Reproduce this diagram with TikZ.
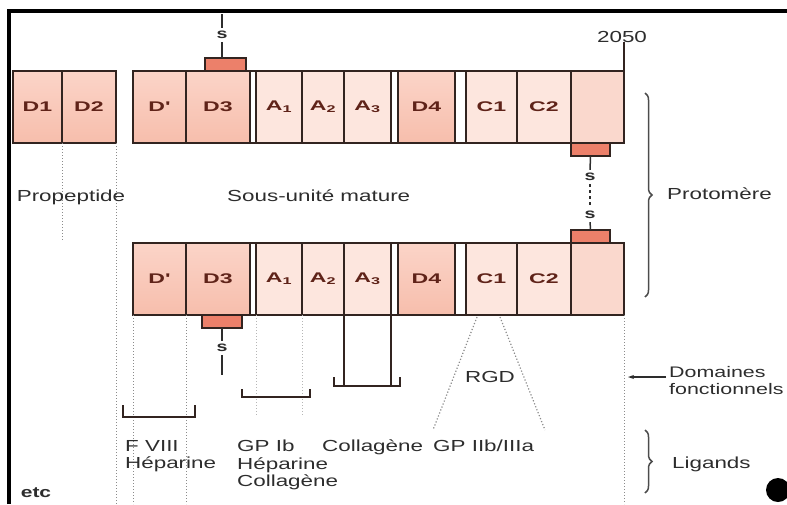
\documentclass[tikz,border=0pt]{standalone}
\usepackage{fontspec}
\setmainfont{Liberation Sans}[FakeStretch=1.4]
\newfontfamily\boxfont{Liberation Sans}[FakeStretch=1.65]
\usetikzlibrary{arrows.meta,decorations.pathreplacing}
\definecolor{vwfdark}{RGB}{240,145,124}
\definecolor{vwfpale}{RGB}{251,212,200}
\definecolor{vwfbase}{RGB}{247,190,172}
\definecolor{vwflight}{RGB}{249,206,192}
\definecolor{vwfedge}{RGB}{253,230,222}
\definecolor{vwflast}{RGB}{250,216,205}
\definecolor{vwfcap}{RGB}{236,128,106}
\definecolor{vwfline}{RGB}{50,36,32}
\definecolor{vwftext}{RGB}{45,45,45}
\definecolor{vwfred}{RGB}{95,35,25}

\tikzset{
  dom/.style={draw=vwfline, line width=1.7pt, minimum height=72pt, inner sep=0pt, outer sep=0pt,
    anchor=north west, text=vwfred, font=\boxfont\bfseries\fontsize{14}{16}\selectfont},
  darkdom/.style={dom, top color=vwfpale, middle color=vwfdark, bottom color=vwfbase},
  lightdom/.style={dom, top color=vwfedge, middle color=vwflight, bottom color=vwfedge},
  lastdom/.style={dom, fill=vwflast},
  capbox/.style={draw=vwfline, line width=1.4pt, fill=vwfcap, minimum height=13pt, inner sep=0pt, outer sep=0pt},
  lbl/.style={text=vwftext, inner sep=0pt, font=\fontsize{16}{17.5}\selectfont},
  bond/.style={text=vwftext, inner sep=3pt, font=\bfseries\fontsize{14}{15}\selectfont},
  sline/.style={draw=vwftext, line width=1.5pt},
  guide/.style={draw=vwftext!55, dotted, line width=1pt},
  bracket/.style={draw=vwfline, line width=1.5pt},
  curly/.style={draw=vwftext!85, line width=1.5pt, decorate, decoration={brace, amplitude=7pt}}
}

\begin{document}
\begin{tikzpicture}[x=1pt, y=-1pt]
  \useasboundingbox (0,0) rectangle (787,504);
  \clip (0,0) rectangle (787,504);

  % frame
  \draw[line width=4pt] (9.3,504) |- (787,11.3);

  % precursor: propeptide + mature subunit
  \node[darkdom, minimum width=49pt] (tD1) at (13,71) {D1};
  \node[darkdom, minimum width=54pt] (tD2) at (62,71) {D2};
  \node[darkdom, minimum width=53pt] (tDp) at (133,71) {D'};
  \node[darkdom, minimum width=64pt] (tD3) at (186,71) {D3};
  \node[lightdom, minimum width=46pt] (tA1) at (256,71) {A\textsubscript{1}};
  \node[lightdom, minimum width=42pt] (tA2) at (302,71) {A\textsubscript{2}};
  \node[lightdom, minimum width=47pt] (tA3) at (344,71) {A\textsubscript{3}};
  \node[darkdom, minimum width=57pt] (tD4) at (398,71) {D4};
  \node[lightdom, minimum width=51pt] (tC1) at (466,71) {C1};
  \node[lightdom, minimum width=54pt] (tC2) at (517,71) {C2};
  \node[lastdom, minimum width=53pt] (tEnd) at (571,71) {};
  \draw[vwfline, line width=1.7pt] (tDp.north west) rectangle (tEnd.south east);

  % second mature subunit
  \node[darkdom, minimum width=53pt] (bDp) at (133,243) {D'};
  \node[darkdom, minimum width=64pt] (bD3) at (186,243) {D3};
  \node[lightdom, minimum width=46pt] (bA1) at (256,243) {A\textsubscript{1}};
  \node[lightdom, minimum width=42pt] (bA2) at (302,243) {A\textsubscript{2}};
  \node[lightdom, minimum width=47pt] (bA3) at (344,243) {A\textsubscript{3}};
  \node[darkdom, minimum width=57pt] (bD4) at (398,243) {D4};
  \node[lightdom, minimum width=51pt] (bC1) at (466,243) {C1};
  \node[lightdom, minimum width=54pt] (bC2) at (517,243) {C2};
  \node[lastdom, minimum width=53pt] (bEnd) at (571,243) {};
  \draw[vwfline, line width=1.7pt] (bDp.north west) rectangle (bEnd.south east);

  % disulfide caps and bonds
  \node[capbox, minimum width=41pt, anchor=south] (tcapD3) at (225.5,71) {};
  \node[capbox, minimum width=39pt, anchor=north] (tcapEnd) at (590.5,143) {};
  \node[capbox, minimum width=39pt, anchor=south] (bcapEnd) at (590.5,243) {};
  \node[capbox, minimum width=40pt, anchor=north] (bcapD3) at (222,315) {};

  \node[bond] (sTop) at (222,35) {s};
  \coordinate (sTopEnd) at (222,14);
  \draw[sline] (tcapD3.north -| sTop) -- (sTop);
  \draw[sline] (sTop) -- (sTopEnd);

  \node[bond] (sR1) at (590,177) {s};
  \node[bond] (sR2) at (590,215) {s};
  \draw[sline] (tcapEnd) -- (sR1);
  \draw[sline, dashed] (sR1) -- (sR2);
  \draw[sline] (sR2) -- (bcapEnd);

  \node[bond] (sBot) at (222,348) {s};
  \coordinate (sBotEnd) at (222,375);
  \draw[sline] (bcapD3.south -| sBot) -- (sBot);
  \draw[sline] (sBot) -- (sBotEnd);

  \node[lbl, anchor=base] (n2050) at (622,42) {2050};
  \draw[vwfline, line width=1.5pt] (tEnd.north east) -- (tEnd.north east |- n2050.south);

  % dotted guides
  \draw[guide] (tD1.south east) -- ++(0,97);
  \draw[guide] (tD2.south east) -- (tD2.south east |- 0,504);
  \draw[guide] (bDp.south west) -- (bDp.south west |- 0,504);
  \draw[guide] (bDp.south east) -- (bDp.south east |- 0,504);
  \draw[guide, vwftext!35] (bA1.south west) -- ++(0,100);
  \draw[guide, vwftext!35] (bA1.south east) -- ++(0,100);
  \draw[guide] (bEnd.south east) -- (bEnd.south east |- 0,504);

  % labels
  \node[lbl, anchor=base] (propep) at (71,201) {Propeptide};
  \node[lbl, anchor=base west] (mature) at (227,201) {Sous-unité mature};
  \draw[curly] (645,93) -- (645,297);
  \node[lbl, anchor=base west] (proto) at (667,199) {Protomère};

  % functional domains
  \draw[bracket] (123,405) |- (195,417) -- (195,405);
  \draw[bracket] (242,389) |- (310,397) -- (310,389);
  \draw[bracket] (bA3.south west) -- ++(0,71);
  \draw[bracket] (bA3.south east) -- ++(0,71);
  \draw[bracket] (334,377) |- (400,386) -- (400,377);
  \draw[guide, line width=1.2pt] (477,317) -- (433,430);
  \draw[guide, line width=1.2pt] (500,317) -- (545,430);
  \node[lbl, anchor=base] (rgd) at (490,382) {RGD};

  \node[lbl, anchor=north west, align=left, font=\fontsize{15.3}{17}\selectfont] (domf) at (669,366) {Domaines\\fonctionnels};
  \coordinate (domTip) at (628,377);
  \draw[vwftext, line width=1.2pt, -{Stealth[length=6pt, width=4pt]}] (666,377) -- (domTip);

  % ligands
  \node[lbl, anchor=north west, align=left] (fviii) at (125,440) {F VIII\\Héparine};
  \node[lbl, anchor=north west, align=left] (gpib) at (237,440) {GP Ib\\Héparine\\Collagène};
  \node[lbl, anchor=north west] (coll) at (322,440) {Collagène};
  \node[lbl, anchor=north west] (gpiib) at (433,440) {GP IIb/IIIa};
  \draw[curly] (645,430) -- (645,493);
  \node[lbl, anchor=base west] (lig) at (672,468) {Ligands};

  \node[lbl, font=\bfseries\fontsize{15}{16}\selectfont] (etc) at (36,493) {etc};
  \node[circle, fill=black, inner sep=0pt, minimum size=24pt] (dot) at (778,490) {};
\end{tikzpicture}
\end{document}
